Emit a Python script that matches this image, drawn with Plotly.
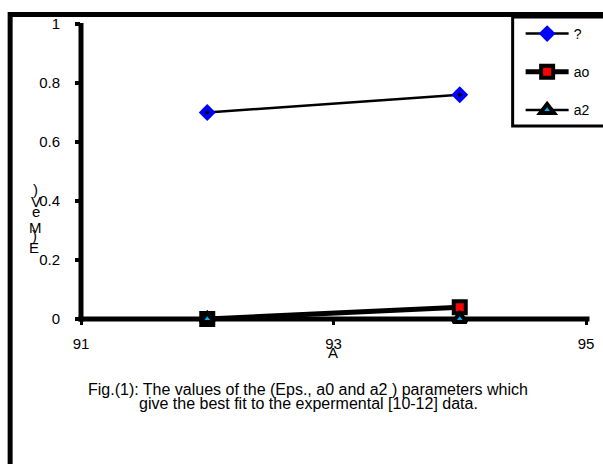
import plotly.graph_objects as go

# ---- data ----
A_values = [92, 94]
eps_values = [0.70, 0.76]
a0_values = [0.0, 0.04]
a2_values = [0.0, 0.0]
legend_names = ["?", "ao", "a2"]
y_ticks = [0, 0.2, 0.4, 0.6, 0.8, 1]
y_tick_text = ["0", "0.2", "0.4", "0.6", "0.8", "1"]
x_ticks = [91, 93, 95]
x_tick_text = ["91", "93", "95"]
x_range = [91, 95]
y_range = [0, 1]
y_title_chars = [")", "V", "e", "M", ")", "E"]
caption_lines = [
    "Fig.(1): The values of the (Eps., a0 and a2 ) parameters which",
    "give the best fit to the expermental [10-12] data.",
]

W, H = 603, 464
L, R, T, B = 80.5, 16.5, 24, 145
PW = W - L - R
PH = H - T - B


def px_x(p):
    return (p - L) / PW


def px_y(p):
    return (H - B - p) / PH


FONT = "Liberation Sans, Arial, sans-serif"

fig = go.Figure()

fig.add_trace(go.Scatter(
    x=A_values, y=eps_values, name=legend_names[0], mode="lines+markers",
    line=dict(color="black", width=2.5),
    marker=dict(symbol="diamond", size=13, color="#0000ff", line=dict(width=0)),
    legendgroup="g1", cliponaxis=False,
))
fig.add_trace(go.Scatter(
    x=A_values, y=eps_values, mode="markers", showlegend=False,
    marker=dict(symbol="circle", size=4, color="black"), cliponaxis=False,
))
fig.add_trace(go.Scatter(
    x=A_values, y=a0_values, name=legend_names[1], mode="lines+markers",
    line=dict(color="black", width=5),
    marker=dict(symbol="square", size=12, color="#ff0000", line=dict(color="black", width=4)),
    legendgroup="g2", cliponaxis=False,
))
fig.add_trace(go.Scatter(
    x=A_values, y=a2_values, name=legend_names[2], mode="lines+markers",
    line=dict(color="black", width=2.5),
    marker=dict(symbol="triangle-up", size=12, color="#00b0f0", line=dict(color="black", width=4)),
    legendgroup="g3", cliponaxis=False,
))

annotations = []
y_title_pos = [189, 201, 212, 227, 235, 247]
y_title_x = [35, 35, 35, 35, 34, 33]
for ch, yy, xx in zip(y_title_chars, y_title_pos, y_title_x):
    annotations.append(dict(
        text=ch, x=px_x(xx), y=px_y(yy), xref="paper", yref="paper",
        xanchor="center", yanchor="middle", showarrow=False,
        font=dict(family=FONT, size=15, color="black"),
    ))
annotations.append(dict(
    text="A", x=px_x(333), y=px_y(352), xref="paper", yref="paper",
    xanchor="center", yanchor="middle", showarrow=False,
    font=dict(family=FONT, size=15, color="black"),
))
for line, yy in zip(caption_lines, [389, 403]):
    annotations.append(dict(
        text=line, x=px_x(308), y=px_y(yy), xref="paper", yref="paper",
        xanchor="center", yanchor="middle", showarrow=False,
        font=dict(family=FONT, size=16, color="black"),
    ))

shapes = [
    # outer frame (left and top edges visible)
    dict(type="rect", xref="paper", yref="paper",
         x0=px_x(9.5), x1=px_x(700), y0=px_y(14.5), y1=px_y(600),
         line=dict(color="black", width=5)),
    # legend box
    dict(type="rect", xref="paper", yref="paper",
         x0=px_x(513), x1=px_x(700), y0=px_y(17), y1=px_y(126),
         line=dict(color="black", width=3)),
    # heavy axis lines along the left and bottom edges of the plot area
    dict(type="line", xref="paper", yref="paper", x0=0, x1=0,
         y0=px_y(321.5), y1=px_y(23),
         line=dict(color="black", width=5), layer="below"),
    dict(type="line", xref="paper", yref="paper", x0=px_x(78), x1=px_x(590),
         y0=0, y1=0,
         line=dict(color="black", width=5), layer="below"),
]

fig.update_layout(
    width=W, height=H,
    margin=dict(l=L, r=R, t=T, b=B, pad=0, autoexpand=False),
    paper_bgcolor="white", plot_bgcolor="white",
    font=dict(family=FONT, size=15, color="black"),
    showlegend=True,
    legend=dict(
        x=px_x(521), y=px_y(18), xanchor="left", yanchor="top",
        bgcolor="rgba(0,0,0,0)", borderwidth=0,
        font=dict(family=FONT, size=14, color="black"),
        tracegroupgap=17, itemwidth=43,
    ),
    xaxis=dict(
        range=x_range, tickmode="array", tickvals=x_ticks, ticktext=x_tick_text,
        showline=False, showgrid=False, zeroline=False,
        ticks="outside", ticklen=5, tickwidth=3, tickcolor="black",
        tickfont=dict(family=FONT, size=15, color="black"),
        ticklabelstandoff=6,
    ),
    yaxis=dict(
        range=y_range, tickmode="array", tickvals=y_ticks, ticktext=y_tick_text,
        showline=False, showgrid=False, zeroline=False,
        ticks="outside", ticklen=5, tickwidth=4, tickcolor="black",
        tickfont=dict(family=FONT, size=15, color="black"),
        ticklabelstandoff=12,
    ),
    annotations=annotations,
    shapes=shapes,
)

fig.write_html("out.html")
